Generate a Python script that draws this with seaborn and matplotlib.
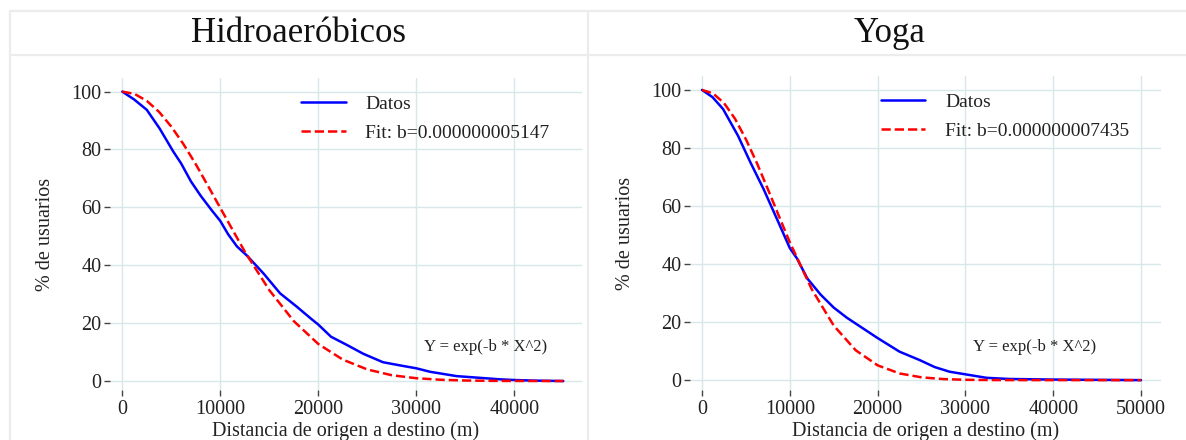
import numpy as np
import pandas as pd
import seaborn as sns
import matplotlib.pyplot as plt
from matplotlib.lines import Line2D

# --- data ---
titles = ["Hidroaeróbicos", "Yoga"]
fit_labels = ["Fit: b=0.000000005147", "Fit: b=0.000000007435"]

hidro_x = [0, 1200, 2500, 3800, 5200, 6000, 7000, 8000, 9100, 10000, 10800, 11700, 12700,
           14400, 16100, 17800, 19200, 20000, 21300, 22900, 24600, 26600, 28500, 30000,
           31400, 34100, 36500, 38500, 40000, 42000, 45000]
hidro_y = [100, 97.3, 93.7, 87.3, 79.3, 75.2, 69.0, 64.0, 59.1, 55.3, 50.7, 46.5, 43.4,
           37.2, 30.3, 25.7, 21.7, 19.5, 15.3, 12.5, 9.4, 6.5, 5.3, 4.4,
           3.2, 1.7, 1.1, 0.6, 0.35, 0.15, 0.0]
hidro_fit_x = [0, 1250, 2500, 3750, 5000, 6250, 7500, 8750, 10000, 12500, 15000, 17500,
               20000, 22500, 25000, 27500, 30000, 32500, 35000, 37500, 40000, 42500, 45000]
hidro_fit_y = [100, 99.2, 96.8, 93.0, 87.9, 81.8, 74.9, 67.4, 59.8, 44.7, 31.4, 20.7,
               12.8, 7.4, 4.0, 2.0, 0.97, 0.44, 0.18, 0.07, 0.03, 0.01, 0.0]

yoga_x = [0, 1200, 2400, 4100, 5500, 7000, 8700, 10000, 10800, 12000, 13500, 15000,
          16500, 18000, 20000, 22500, 24800, 26500, 28200, 30000, 32400, 35000,
          40000, 45000, 50000]
yoga_y = [100, 97.5, 93.4, 84.2, 75.1, 65.9, 54.4, 45.5, 42.0, 35.0, 29.5, 25.0,
          21.5, 18.5, 14.5, 9.8, 6.9, 4.5, 2.9, 2.0, 0.8, 0.4,
          0.2, 0.1, 0.0]
yoga_fit_x = [0, 1250, 2500, 3750, 5000, 6250, 7500, 8750, 10000, 12500, 15000, 17500,
              20000, 22500, 25000, 27500, 30000, 32500, 35000, 40000, 45000, 50000]
yoga_fit_y = [100, 98.8, 95.5, 90.1, 83.0, 74.8, 65.8, 56.6, 47.5, 31.3, 18.8, 10.3,
              5.1, 2.3, 0.96, 0.36, 0.12, 0.04, 0.01, 0.0, 0.0, 0.0]

xticks_list = [[0, 10000, 20000, 30000, 40000], [0, 10000, 20000, 30000, 40000, 50000]]
yticks = [0, 20, 40, 60, 80, 100]

sns.set_style("white")
plt.rcParams['font.family'] = ['Liberation Serif', 'DejaVu Serif']

W, H = 1186, 440
fig = plt.figure(figsize=(W / 100, H / 100), dpi=100)

# axes boxes in pixels: left, top, right, bottom
boxes = [(110, 78, 582, 390), (690, 76, 1161, 390)]
xlims = [(-1255, 46910), (-1370, 52280)]
ylims = [(-3.1, 104.7), (-3.4, 104.8)]

datos = [(hidro_x, hidro_y), (yoga_x, yoga_y)]
fits = [(hidro_fit_x, hidro_fit_y), (yoga_fit_x, yoga_fit_y)]

grid_col = "#d8e8ea"

for i in range(2):
    l, t, r, b = boxes[i]
    ax = fig.add_axes([l / W, 1 - b / H, (r - l) / W, (b - t) / H])
    d = pd.DataFrame({"x": datos[i][0], "y": datos[i][1]})
    f = pd.DataFrame({"x": fits[i][0], "y": fits[i][1]})
    sns.lineplot(data=d, x="x", y="y", ax=ax, color="blue", lw=1.8, label="Datos")
    sns.lineplot(data=f, x="x", y="y", ax=ax, color="red", lw=1.8, ls="--",
                 label=fit_labels[i])
    ax.set_xlim(*xlims[i])
    ax.set_ylim(*ylims[i])
    ax.set_xticks(xticks_list[i])
    ax.set_yticks(yticks)
    ax.grid(True, color=grid_col, lw=1)
    for s in ax.spines.values():
        s.set_visible(False)
    ax.tick_params(axis="both", which="both", direction="out", length=4, width=1,
                   color="#444444", labelsize=14.5, labelcolor="#222222", pad=3,
                   bottom=True, left=True)
    ax.tick_params(axis="y", pad=2)
    ax.set_xlabel("Distancia de origen a destino (m)", fontsize=14.5, color="#222222",
                  labelpad=2)
    ax.set_ylabel("% de usuarios", fontsize=14.5, color="#222222", labelpad=12)
    leg = ax.legend(loc="upper left", bbox_to_anchor=(0.405, 0.945), frameon=False,
                    fontsize=14, handlelength=2.3, handletextpad=1.0,
                    labelspacing=0.6, borderaxespad=0, borderpad=0)
    for txt in leg.get_texts():
        txt.set_color("#222222")
    ann_x = 0.665 if i == 0 else 0.60
    ax.text(ann_x, 0.138, "Y = exp(-b * X^2)", transform=ax.transAxes,
            fontsize=12, color="#222222", va="center", ha="left")

# panel titles
fig.text(299 / W, 1 - 33 / H, titles[0], ha="center", va="center", fontsize=25,
         color="#111111")
fig.text(890 / W, 1 - 33 / H, titles[1], ha="center", va="center", fontsize=25,
         color="#111111")

# table-like frame lines
frame_col = "#ececec"
def hline(y, x0, x1):
    fig.add_artist(Line2D([x0 / W, x1 / W], [1 - y / H, 1 - y / H], color=frame_col,
                          lw=1.6, transform=fig.transFigure))
def vline(x, y0, y1):
    fig.add_artist(Line2D([x / W, x / W], [1 - y0 / H, 1 - y1 / H], color=frame_col,
                          lw=1.6, transform=fig.transFigure))

hline(11, 10, W)
hline(55, 10, W)
vline(10, 11, H)
vline(588, 11, H)

fig.savefig("out.png", dpi=100)
